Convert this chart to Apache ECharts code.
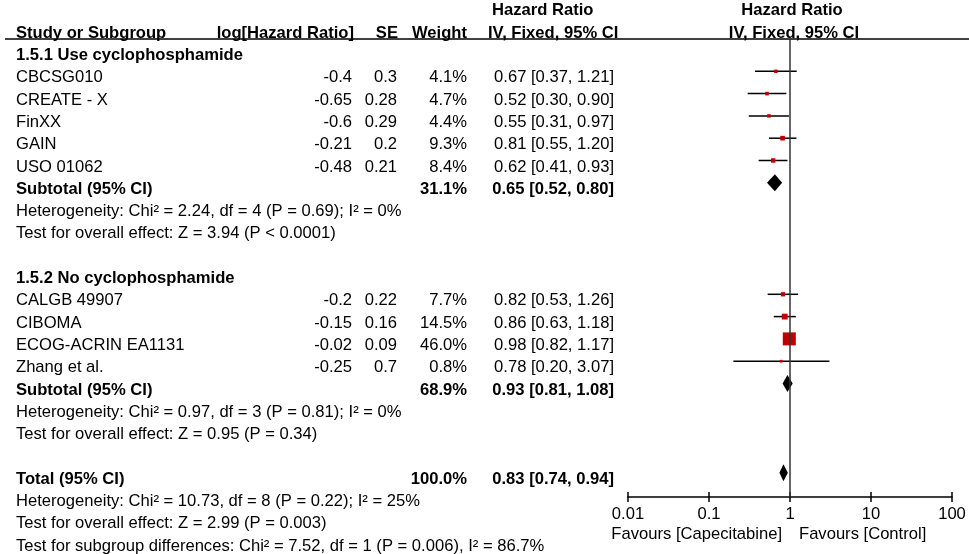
<!DOCTYPE html>
<html>
<head>
<meta charset="utf-8">
<script src="https://cdn.jsdelivr.net/npm/echarts@6/dist/echarts.min.js"></script>
<style>
html,body{margin:0;padding:0;background:#fff;}
#chart{width:969px;height:554px;}
</style>
</head>
<body>
<div id="chart"></div>
<script>
// ---------------- DATA ----------------
const groupTitles = ['1.5.1 Use cyclophosphamide', '1.5.2 No cyclophosphamide'];
const groupRows = [0, 10];

const studyNames = ['CBCSG010', 'CREATE - X', 'FinXX', 'GAIN', 'USO 01062',
                    'CALGB 49907', 'CIBOMA', 'ECOG-ACRIN EA1131', 'Zhang et al.'];
const studyRows = [1, 2, 3, 4, 5, 11, 12, 13, 14];
const logHR = ['-0.4', '-0.65', '-0.6', '-0.21', '-0.48', '-0.2', '-0.15', '-0.02', '-0.25'];
const seVals = ['0.3', '0.28', '0.29', '0.2', '0.21', '0.22', '0.16', '0.09', '0.7'];
const weights = [4.1, 4.7, 4.4, 9.3, 8.4, 7.7, 14.5, 46.0, 0.8];
const hrVals = [0.67, 0.52, 0.55, 0.81, 0.62, 0.82, 0.86, 0.98, 0.78];
const ciLow = [0.37, 0.30, 0.31, 0.55, 0.41, 0.53, 0.63, 0.82, 0.20];
const ciHigh = [1.21, 0.90, 0.97, 1.20, 0.93, 1.26, 1.18, 1.17, 3.07];

const pooledLabels = ['Subtotal (95% CI)', 'Subtotal (95% CI)', 'Total (95% CI)'];
const pooledRows = [6, 15, 19];
const pooledWeights = [31.1, 68.9, 100.0];
const pooledHR = [0.65, 0.93, 0.83];
const pooledLow = [0.52, 0.81, 0.74];
const pooledHigh = [0.80, 1.08, 0.94];

const statLines = [
  'Heterogeneity: Chi² = 2.24, df = 4 (P = 0.69); I² = 0%',
  'Test for overall effect: Z = 3.94 (P < 0.0001)',
  'Heterogeneity: Chi² = 0.97, df = 3 (P = 0.81); I² = 0%',
  'Test for overall effect: Z = 0.95 (P = 0.34)',
  'Heterogeneity: Chi² = 10.73, df = 8 (P = 0.22); I² = 25%',
  'Test for overall effect: Z = 2.99 (P = 0.003)',
  'Test for subgroup differences: Chi² = 7.52, df = 1 (P = 0.006), I² = 86.7%'
];
const statRows = [7, 8, 16, 17, 20, 21, 22];

const tickValues = [0.01, 0.1, 1, 10, 100];
const tickLabels = ['0.01', '0.1', '1', '10', '100'];
const favourLeft = 'Favours [Capecitabine]';
const favourRight = 'Favours [Control]';

// ---------------- CHART ----------------
const FONT = '"Liberation Sans", Arial, sans-serif';
const FS = 16.6;
const chart = echarts.init(document.getElementById('chart'), null, {renderer: 'canvas'});

const studyData = hrVals.map((v, i) => [v, ciLow[i], ciHigh[i], studyRows[i], weights[i]]);
const pooledData = pooledHR.map((v, i) => [v, pooledLow[i], pooledHigh[i], pooledRows[i]]);
const tickData = tickValues.map(v => [v, 0]);

function fmtCI(h, l, u) { return h.toFixed(2) + ' [' + l.toFixed(2) + ', ' + u.toFixed(2) + ']'; }

const option = {
  backgroundColor: '#fff',
  animation: false,
  grid: {left: 628, right: 17, top: 39, bottom: 57, containLabel: false},
  xAxis: {
    type: 'log', logBase: 10, min: 0.01, max: 100,
    axisLine: {show: true, onZero: false, lineStyle: {color: '#000', width: 1.5}},
    axisTick: {show: false},
    splitLine: {show: false},
    axisLabel: {
      color: '#000', fontSize: FS, fontFamily: FONT, margin: 9,
      formatter: function (value) {
        const idx = tickValues.findIndex(t => Math.abs(Math.log10(t) - Math.log10(value)) < 1e-6);
        return idx >= 0 ? tickLabels[idx] : '';
      }
    }
  },
  yAxis: {type: 'value', inverse: true, min: -0.448, max: 20.09, show: false},
  series: [
    {
      type: 'custom', name: 'studies', clip: false,
      encode: {x: [0, 1, 2], y: 3},
      data: studyData,
      renderItem: function (params, api) {
        const k = api.value(3);
        const c = api.coord([api.value(0), k]);
        const l = api.coord([api.value(1), k]);
        const u = api.coord([api.value(2), k]);
        const s = 2.5 + 10.5 * api.value(4) / 46;
        return {
          type: 'group',
          children: [
            {type: 'line', shape: {x1: l[0], y1: c[1], x2: u[0], y2: c[1]}, style: {stroke: '#000', lineWidth: 1.5}},
            {type: 'rect', shape: {x: c[0] - s / 2, y: c[1] - s / 2, width: s, height: s}, style: {fill: '#c00000'}}
          ]
        };
      },
      markLine: {
        silent: true, symbol: 'none', label: {show: false},
        lineStyle: {color: '#333', width: 1.5, type: 'solid'},
        data: [{xAxis: 1}]
      }
    },
    {
      type: 'custom', name: 'pooled', clip: false,
      encode: {x: [0, 1, 2], y: 3},
      data: pooledData,
      renderItem: function (params, api) {
        const k = api.value(3);
        const c = api.coord([api.value(0), k]);
        const l = api.coord([api.value(1), k]);
        const u = api.coord([api.value(2), k]);
        const h = 8.5;
        return {
          type: 'polygon',
          shape: {points: [[l[0], c[1]], [c[0], c[1] - h], [u[0], c[1]], [c[0], c[1] + h]]},
          style: {fill: '#000'}
        };
      }
    },
    {
      type: 'custom', name: 'ticks', clip: false,
      encode: {x: 0, y: 1},
      data: tickData,
      renderItem: function (params, api) {
        const cs = params.coordSys;
        const x = api.coord([api.value(0), 0])[0];
        const y = cs.y + cs.height;
        return {type: 'line', shape: {x1: x, y1: y - 5, x2: x, y2: y + 5}, style: {stroke: '#000', lineWidth: 1.5}};
      }
    }
  ]
};
chart.setOption(option);

// ---------------- TEXT TABLE ----------------
const TEXT_DY = 6.5;
function rowY(k) { return chart.convertToPixel({yAxisIndex: 0}, k) + TEXT_DY; }
const oneX = chart.convertToPixel({xAxisIndex: 0}, 1);

const els = [];
function txt(s, x, k, align, bold) {
  els.push({
    type: 'text', silent: true,
    style: {
      text: s, x: x, y: rowY(k), align: align || 'left', verticalAlign: 'middle',
      fill: '#000', fontSize: FS, fontFamily: FONT, fontWeight: bold ? 'bold' : 'normal'
    }
  });
}
const X_NAME = 16, X_LOG = 352, X_SE = 397, X_W = 467, X_CI = 614;

// header
txt('Hazard Ratio', 492, -2, 'left', true);
txt('Hazard Ratio', oneX + 2, -2, 'center', true);
txt('Study or Subgroup', X_NAME, -1, 'left', true);
txt('log[Hazard Ratio]', 354, -1, 'right', true);
txt('SE', 398, -1, 'right', true);
txt('Weight', X_W, -1, 'right', true);
txt('IV, Fixed, 95% CI', 488, -1, 'left', true);
txt('IV, Fixed, 95% CI', oneX + 4, -1, 'center', true);

groupTitles.forEach((g, i) => txt(g, X_NAME, groupRows[i], 'left', true));
studyNames.forEach((n, i) => {
  const k = studyRows[i];
  txt(n, X_NAME, k, 'left', false);
  txt(logHR[i], X_LOG, k, 'right', false);
  txt(seVals[i], X_SE, k, 'right', false);
  txt(weights[i].toFixed(1) + '%', X_W, k, 'right', false);
  txt(fmtCI(hrVals[i], ciLow[i], ciHigh[i]), X_CI, k, 'right', false);
});
pooledLabels.forEach((n, i) => {
  const k = pooledRows[i];
  txt(n, X_NAME, k, 'left', true);
  txt(pooledWeights[i].toFixed(1) + '%', X_W, k, 'right', true);
  txt(fmtCI(pooledHR[i], pooledLow[i], pooledHigh[i]), X_CI, k, 'right', true);
});
statLines.forEach((s, i) => txt(s, X_NAME, statRows[i], 'left', false));

// favours labels
const axisY = chart.convertToPixel({yAxisIndex: 0}, 20.09);
[[favourLeft, oneX - 8, 'right'], [favourRight, oneX + 9, 'left']].forEach(f => {
  els.push({type: 'text', silent: true, style: {text: f[0], x: f[1], y: axisY + 37, align: f[2], verticalAlign: 'middle',
    fill: '#000', fontSize: FS, fontFamily: FONT}});
});
// header underline
const topY = chart.convertToPixel({yAxisIndex: 0}, -0.448);
els.push({type: 'line', silent: true, shape: {x1: 5, y1: topY, x2: 969, y2: topY}, style: {stroke: '#000', lineWidth: 1.5}});

chart.setOption({graphic: {elements: els}});
</script>
</body>
</html>
